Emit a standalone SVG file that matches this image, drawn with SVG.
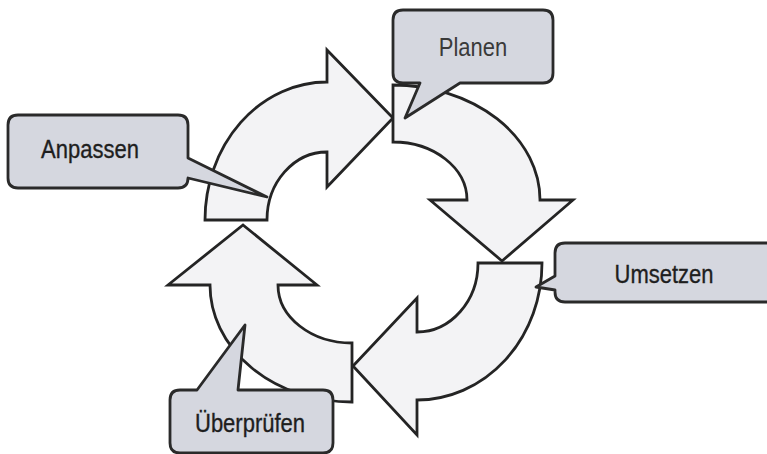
<svg xmlns="http://www.w3.org/2000/svg" width="767" height="454" viewBox="0 0 767 454">
<style>
.arrow{fill:#f3f3f5;stroke:#242424;stroke-width:2.8;stroke-linejoin:miter}
.box{fill:#d5d7df;stroke:#2a2a2a;stroke-width:2.8;stroke-linejoin:round}
.lbl{font-family:"Liberation Sans",Arial,sans-serif;font-size:22px;fill:#1e1e1e;text-anchor:middle;stroke:#1e1e1e;stroke-width:0.3}
</style>
<rect width="767" height="454" fill="#ffffff"/>
<g id="connectors">
<path id="arrow-top" class="arrow" d="M205,220 A122,138 0 0 1 327,82 L327,50 L393,118 L327,187 L327,152 A60,68 0 0 0 267,220 Z"/>
<path id="arrow-right" class="arrow" d="M393,85 A147,115 0 0 1 540,200 L573,200 L502,261 L430,200 L467,200 A74,58 0 0 0 393,142 Z"/>
<path id="arrow-bottom" class="arrow" d="M542,263 A125,137 0 0 1 417,400 L417,435 L353,366 L417,298 L417,332 A61,69 0 0 0 478,263 Z"/>
<path id="arrow-left" class="arrow" d="M352,402 A142,117 0 0 1 210,285 L168,285 L243,225 L317,285 L278,285 A74,58 0 0 0 352,343 Z"/>
</g>
<g id="node-planen">
<path class="box" d="M403,10 H543 Q553,10 553,20 V73 Q553,83 543,83 H460 L405,118 L420,83 H403 Q393,83 393,73 V20 Q393,10 403,10 Z"/>
<text class="lbl" transform="translate(473,56) scale(1,1.15)" style="fill:#3a3a3a;stroke:none">Planen</text>
</g>
<g id="node-anpassen">
<path class="box" d="M18,115 H178 Q188,115 188,125 V158 L267,197 L188,178 Q188,188 178,188 H18 Q8,188 8,178 V125 Q8,115 18,115 Z"/>
<text class="lbl" transform="translate(90,158) scale(1,1.15)">Anpassen</text>
</g>
<g id="node-umsetzen">
<path class="box" d="M565,243 H780 V302 H565 Q555,302 555,292 V290 L536,287 L555,276 V253 Q555,243 565,243 Z"/>
<text class="lbl" transform="translate(664,283) scale(1,1.15)">Umsetzen</text>
</g>
<g id="node-ueberpruefen">
<path class="box" d="M180,390 H197 L245,325 L238,390 H323 Q333,390 333,400 V443 Q333,453 323,453 H180 Q170,453 170,443 V400 Q170,390 180,390 Z"/>
<text class="lbl" transform="translate(250,432) scale(1,1.15)">Überprüfen</text>
</g>
</svg>
